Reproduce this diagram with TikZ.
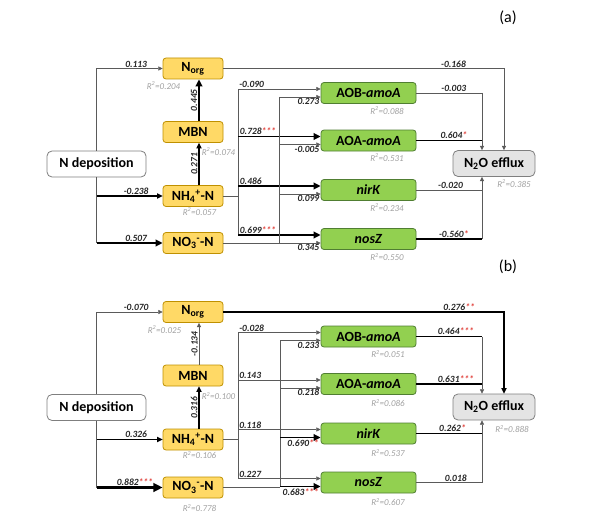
\documentclass[tikz,border=0pt]{standalone}
\usepackage{fontspec}
\setmainfont{Carlito}
\usetikzlibrary{arrows.meta,positioning}

\definecolor{poolfill}{HTML}{FFD966}
\definecolor{pooldraw}{HTML}{BF9000}
\definecolor{genefill}{HTML}{92D050}
\definecolor{genedraw}{HTML}{507E32}
\definecolor{fluxfill}{HTML}{E4E4E4}
\definecolor{boxgray}{HTML}{7F7F7F}
\definecolor{linegray}{HTML}{5A5A5A}
\definecolor{rsqgray}{HTML}{A0A0A0}
\definecolor{starred}{HTML}{E0403A}

\newcommand{\stars}[1]{\textcolor{starred}{#1}}
\newcommand{\rtwo}[1]{R\textsuperscript{2}=#1}

\begin{document}
\begin{tikzpicture}[
  x=1pt, y=-1pt,
  pool/.style={draw=pooldraw, fill=poolfill, line width=0.8pt, rounded corners=3pt, minimum width=60pt, minimum height=21pt, inner sep=0pt, font=\fontsize{14}{16}\selectfont\bfseries},
  gene/.style={pool, draw=genedraw, fill=genefill, minimum width=95pt},
  driver/.style={pool, draw=boxgray, fill=white, rounded corners=5pt, minimum width=99pt, minimum height=26pt},
  flux/.style={driver, fill=fluxfill, minimum width=82pt},
  coef/.style={font=\fontsize{9.5}{11}\selectfont\bfseries\itshape, text=black!85, inner sep=1pt},
  rsq/.style={font=\fontsize{9}{10}\selectfont\itshape, text=rsqgray, inner sep=0pt},
  tag/.style={font=\fontsize{16}{18}\selectfont},
  arrow/.style={-{Triangle[length=3pt 2.2, width=3pt 2]}},
  w0/.style={line width=0.6pt, draw=linegray},
  w1/.style={line width=1.1pt, draw=black},
  w2/.style={line width=1.8pt, draw=black},
  w3/.style={line width=2.8pt, draw=black}
]
\useasboundingbox (0,0) rectangle (600,519);

% ---------------- panel (a) ----------------
\node[tag] (a-tag) at (508,17.5) {(a)};
\node[driver] (a-nd) at (96.5,164) {N deposition};
\node[pool] (a-norg) at (193,68.5) {N\textsubscript{org}};
\node[pool] (a-mbn) at (193,132) {MBN};
\node[pool] (a-nh4) at (193,196) {NH\textsubscript{4}\textsuperscript{+}-N};
\node[pool] (a-no3) at (193,243) {NO\textsubscript{3}\textsuperscript{-}-N};
\node[gene] (a-aob) at (368.5,93) {AOB-\textit{amoA}};
\node[gene] (a-aoa) at (368.5,140.5) {AOA-\textit{amoA}};
\node[gene] (a-nirk) at (368.5,190) {\textit{nirK}};
\node[gene] (a-nosz) at (368.5,239) {\textit{nosZ}};
\node[flux] (a-n2o) at (494,163.5) {N\textsubscript{2}O efflux};

\node[rsq] (a-r-norg) at (163.5,85.5) {\rtwo{0.204}};
\node[rsq] (a-r-mbn) at (218.5,152) {\rtwo{0.074}};
\node[rsq] (a-r-nh4) at (199.5,212) {\rtwo{0.057}};
\node[rsq] (a-r-aob) at (387,111) {\rtwo{0.088}};
\node[rsq] (a-r-aoa) at (387,158) {\rtwo{0.531}};
\node[rsq] (a-r-nirk) at (387,208) {\rtwo{0.234}};
\node[rsq] (a-r-nosz) at (387,257) {\rtwo{0.550}};
\node[rsq] (a-r-n2o) at (514,184) {\rtwo{0.385}};

% N deposition to the soil N pools
\coordinate (a-up) at (a-nd.north |- a-norg.west);
\coordinate (a-dn1) at (a-nd.south |- a-nh4.west);
\coordinate (a-dn2) at (a-nd.south |- a-no3.west);
\draw[w0] (a-nd.north) -- (a-up);
\draw[w0] (a-nd.south) -- (a-dn2);
\draw[w0, arrow] (a-up) -- node[coef, above, pos=0.6] {0.113} (a-norg.west);
\draw[w1, arrow] (a-dn1) -- node[coef, above, pos=0.6] {-0.238} (a-nh4.west);
\draw[w2, arrow] (a-dn2) -- node[coef, above, pos=0.6] {0.507} (a-no3.west);
\draw[w1, arrow] ([xshift=6pt]a-nh4.north) -- node[coef, rotate=90, anchor=south] {0.271} ([xshift=6pt]a-mbn.south);
\draw[w2, arrow] ([xshift=6pt]a-mbn.north) -- node[coef, rotate=90, anchor=south] {0.445} ([xshift=6pt]a-norg.south);

% NH4+ to the genes (upper inputs)
\coordinate (a-hub1) at (238,196);
\draw[w0] (a-nh4.east) -- (a-nh4.east -| a-hub1);
\draw[w0] ([yshift=4pt]a-aob.west -| a-hub1) -- ([yshift=4pt]a-nosz.west -| a-hub1);
\draw[w0, arrow] ([yshift=4pt]a-aob.west -| a-hub1) -- node[coef, pos=0, anchor=south west] {-0.090} ([yshift=4pt]a-aob.west);
\draw[w2, arrow] ([yshift=4pt]a-aoa.west -| a-hub1) -- node[coef, pos=0, anchor=south west] {0.728\stars{***}} ([yshift=4pt]a-aoa.west);
\draw[w2, arrow] ([yshift=4pt]a-nirk.west -| a-hub1) -- node[coef, pos=0, anchor=south west] {0.486} ([yshift=4pt]a-nirk.west);
\draw[w2, arrow] ([yshift=4pt]a-nosz.west -| a-hub1) -- node[coef, pos=0, anchor=south west] {0.699\stars{***}} ([yshift=4pt]a-nosz.west);

% NO3- to the genes (lower inputs)
\coordinate (a-hub2) at (279,243);
\draw[w0] (a-no3.east) -- (a-no3.east -| a-hub2);
\draw[w0] ([yshift=-4pt]a-aob.west -| a-hub2) -- ([yshift=-4pt]a-nosz.west -| a-hub2);
\draw[w0, arrow] ([yshift=-4pt]a-aob.west -| a-hub2) -- node[coef, pos=1, anchor=north east] {0.273} ([yshift=-4pt]a-aob.west);
\draw[w0, arrow] ([yshift=-4pt]a-aoa.west -| a-hub2) -- node[coef, pos=1, anchor=north east] {-0.005} ([yshift=-4pt]a-aoa.west);
\draw[w0, arrow] ([yshift=-4pt]a-nirk.west -| a-hub2) -- node[coef, pos=1, anchor=north east] {0.099} ([yshift=-4pt]a-nirk.west);
\draw[w0, arrow] ([yshift=-4pt]a-nosz.west -| a-hub2) -- node[coef, pos=1, anchor=north east] {0.345} ([yshift=-4pt]a-nosz.west);

% genes and Norg to N2O efflux
\coordinate (a-in1) at ([xshift=-12pt]a-n2o.north);
\coordinate (a-in2) at ([xshift=-12pt]a-n2o.south);
\coordinate (a-in3) at ([xshift=10pt]a-n2o.north);
\draw[w0] (a-aob.east) -- node[coef, above, pos=0.57] {-0.003} (a-aob.east -| a-in1);
\draw[w2] (a-aoa.east) -- node[coef, above, pos=0.57] {0.604\stars{*}} (a-aoa.east -| a-in1);
\draw[w0, arrow] (a-aob.east -| a-in1) -- (a-in1);
\draw[w0] (a-nirk.east) -- node[coef, above, pos=0.52] {-0.020} (a-nirk.east -| a-in2);
\draw[w2] (a-nosz.east) -- node[coef, above, pos=0.57] {-0.560\stars{*}} (a-nosz.east -| a-in2);
\draw[w0, arrow] (a-nosz.east -| a-in2) -- (a-in2);
\draw[w0, arrow] (a-norg.east) -| node[coef, above, pos=0.41] {-0.168} (a-in3);

% ---------------- panel (b) ----------------
\begin{scope}[yshift=-243.5pt]
\node[tag] (b-tag) at (508,23.5) {(b)};
\node[driver] (b-nd) at (96.5,164) {N deposition};
\node[pool] (b-norg) at (193,68.5) {N\textsubscript{org}};
\node[pool] (b-mbn) at (193,132) {MBN};
\node[pool] (b-nh4) at (193,196) {NH\textsubscript{4}\textsuperscript{+}-N};
\node[pool] (b-no3) at (193,244) {NO\textsubscript{3}\textsuperscript{-}-N};
\node[gene] (b-aob) at (368.5,93) {AOB-\textit{amoA}};
\node[gene] (b-aoa) at (368.5,140.5) {AOA-\textit{amoA}};
\node[gene] (b-nirk) at (368.5,190) {\textit{nirK}};
\node[gene] (b-nosz) at (368.5,239) {\textit{nosZ}};
\node[flux] (b-n2o) at (494,163.5) {N\textsubscript{2}O efflux};

\node[rsq] (b-r-norg) at (164.5,86) {\rtwo{0.025}};
\node[rsq] (b-r-mbn) at (218.5,152.5) {\rtwo{0.100}};
\node[rsq] (b-r-nh4) at (199.5,211.5) {\rtwo{0.106}};
\node[rsq] (b-r-no3) at (199.5,264.5) {\rtwo{0.778}};
\node[rsq] (b-r-aob) at (388,110.5) {\rtwo{0.051}};
\node[rsq] (b-r-aoa) at (388,159.5) {\rtwo{0.086}};
\node[rsq] (b-r-nirk) at (388,209.5) {\rtwo{0.537}};
\node[rsq] (b-r-nosz) at (388,258.5) {\rtwo{0.607}};
\node[rsq] (b-r-n2o) at (512,185.5) {\rtwo{0.888}};

% N deposition to the soil N pools
\coordinate (b-up) at (b-nd.north |- b-norg.west);
\coordinate (b-dn1) at (b-nd.south |- b-nh4.west);
\coordinate (b-dn2) at (b-nd.south |- b-no3.west);
\draw[w0] (b-nd.north) -- (b-up);
\draw[w0] (b-nd.south) -- (b-dn2);
\draw[w0, arrow] (b-up) -- node[coef, above, pos=0.6] {-0.070} (b-norg.west);
\draw[w1, arrow] (b-dn1) -- node[coef, above, pos=0.6] {0.326} (b-nh4.west);
\draw[w3, arrow] (b-dn2) -- node[coef, above, pos=0.58] {0.882\stars{***}} (b-no3.west);
\draw[w1, arrow] ([xshift=6pt]b-nh4.north) -- node[coef, rotate=90, anchor=south] {0.316} ([xshift=6pt]b-mbn.south);
\draw[w0, arrow] ([xshift=6pt]b-mbn.north) -- node[coef, rotate=90, anchor=south] {-0.134} ([xshift=6pt]b-norg.south);

% NH4+ to the genes (upper inputs)
\coordinate (b-hub1) at (238,196);
\draw[w0] (b-nh4.east) -- (b-nh4.east -| b-hub1);
\draw[w0] ([yshift=4pt]b-aob.west -| b-hub1) -- ([yshift=4pt]b-nosz.west -| b-hub1);
\draw[w0, arrow] ([yshift=4pt]b-aob.west -| b-hub1) -- node[coef, pos=0, anchor=south west] {-0.028} ([yshift=4pt]b-aob.west);
\draw[w0, arrow] ([yshift=4pt]b-aoa.west -| b-hub1) -- node[coef, pos=0, anchor=south west] {0.143} ([yshift=4pt]b-aoa.west);
\draw[w0, arrow] ([yshift=4pt]b-nirk.west -| b-hub1) -- node[coef, pos=0, anchor=south west] {0.118} ([yshift=4pt]b-nirk.west);
\draw[w0, arrow] ([yshift=4pt]b-nosz.west -| b-hub1) -- node[coef, pos=0, anchor=south west] {0.227} ([yshift=4pt]b-nosz.west);

% NO3- to the genes (lower inputs)
\coordinate (b-hub2) at (280,244);
\draw[w0] (b-no3.east) -- (b-no3.east -| b-hub2);
\draw[w0] ([yshift=-4pt]b-aob.west -| b-hub2) -- ([yshift=-4pt]b-nosz.west -| b-hub2);
\draw[w0, arrow] ([yshift=-4pt]b-aob.west -| b-hub2) -- node[coef, pos=1, anchor=north east] {0.233} ([yshift=-4pt]b-aob.west);
\draw[w0, arrow] ([yshift=-4pt]b-aoa.west -| b-hub2) -- node[coef, pos=1, anchor=north east] {0.218} ([yshift=-4pt]b-aoa.west);
\draw[w2, arrow] ([yshift=-4pt]b-nirk.west -| b-hub2) -- node[coef, pos=1, anchor=north east] {0.690\stars{**}} ([yshift=-4pt]b-nirk.west);
\draw[w2, arrow] ([yshift=-4pt]b-nosz.west -| b-hub2) -- node[coef, pos=1, anchor=north east] {0.683\stars{***}} ([yshift=-4pt]b-nosz.west);

% genes and Norg to N2O efflux
\coordinate (b-in1) at ([xshift=-12pt]b-n2o.north);
\coordinate (b-in2) at ([xshift=-12pt]b-n2o.south);
\coordinate (b-in3) at ([xshift=10pt]b-n2o.north);
\draw[w2] (b-aob.east) -- node[coef, above, pos=0.6] {0.464\stars{***}} (b-aob.east -| b-in1);
\draw[w2] (b-aoa.east) -- node[coef, above, pos=0.6] {0.631\stars{***}} (b-aoa.east -| b-in1);
\draw[w0, arrow] (b-aob.east -| b-in1) -- (b-in1);
\draw[w1] (b-nirk.east) -- node[coef, above, pos=0.55] {0.262\stars{*}} (b-nirk.east -| b-in2);
\draw[w0] (b-nosz.east) -- node[coef, above, pos=0.6] {0.018} (b-nosz.east -| b-in2);
\draw[w0, arrow] (b-nosz.east -| b-in2) -- (b-in2);
\draw[w1, arrow] (b-norg.east) -| node[coef, above, pos=0.42] {0.276\stars{**}} (b-in3);
\end{scope}
\end{tikzpicture}
\end{document}
